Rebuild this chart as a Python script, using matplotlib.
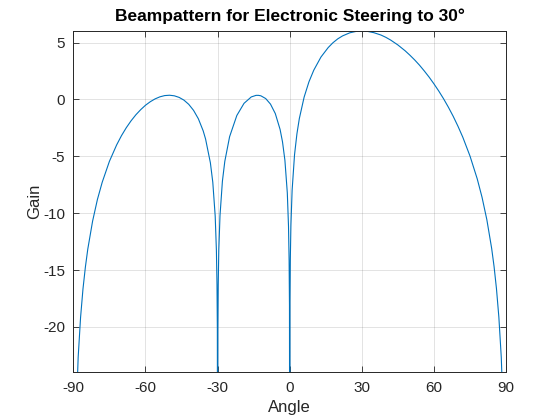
import matplotlib
matplotlib.use("Agg")
import matplotlib.pyplot as plt
import numpy as np

# angle (deg) and gain values; nulls pushed below the axis
angle = [-90, -89, -88, -87, -86, -85, -84, -82, -80, -78, -75, -72, -70, -68, -66,
         -64, -62, -60, -58, -56, -54, -52, -50, -48, -46, -44, -42, -40, -38, -36,
         -35, -33, -32, -31, -30.5, -30.25, -30.1, -30, -29.9, -29.75, -29.5, -29,
         -28, -27, -25, -22, -19, -16, -14, -13, -12, -10, -8, -6, -4, -3, -2, -1,
         -0.5, -0.25, -0.1, 0, 0.1, 0.25, 0.5, 1, 2, 3, 4, 6, 8, 10, 13, 16, 18, 20,
         22, 25, 28, 30, 32, 35, 38, 40, 42, 45, 48, 50, 52, 54, 56, 58, 60, 62, 64,
         66, 68, 70, 72, 75, 78, 80, 82, 84, 85, 86, 87, 88, 89, 90]
gain = [-40, -28.69, -22.67, -19.16, -16.66, -14.74, -13.16, -10.70, -8.80, -7.28,
        -5.44, -4.00, -3.19, -2.49, -1.88, -1.35, -0.90, -0.51, -0.20, 0.05, 0.23,
        0.34, 0.37, 0.32, 0.18, -0.06, -0.43, -0.96, -1.70, -2.76, -3.48, -5.57,
        -7.28, -10.25, -13.25, -16.3, -20.2, -40, -20.2, -16.3, -13.23, -10.21,
        -7.19, -5.44, -3.27, -1.41, -0.34, 0.22, 0.36, 0.36, 0.32, 0.08, -0.41,
        -1.24, -2.64, -3.73, -5.35, -8.22, -11.17, -14.17, -18.15, -40, -18.04,
        -14.06, -11.05, -7.98, -4.87, -3.02, -1.68, 0.21, 1.55, 2.57, 3.73, 4.56,
        4.99, 5.33, 5.59, 5.86, 6.00, 6.02, 6.00, 5.87, 5.66, 5.46, 5.22, 4.79,
        4.28, 3.89, 3.47, 3.01, 2.50, 1.96, 1.37, 0.74, 0.06, -0.68, -1.48, -2.36,
        -3.32, -4.98, -6.98, -8.60, -10.57, -13.09, -14.68, -16.63, -19.14, -22.66,
        -28.70, -40]

x_ticks = [-90, -60, -30, 0, 30, 60, 90]
y_ticks = [-20, -15, -10, -5, 0, 5]

plt.rcParams['font.family'] = ['Liberation Sans', 'DejaVu Sans']
plt.rcParams['axes.unicode_minus'] = False
dark = '#262626'

fig = plt.figure(figsize=(5.6, 4.2), dpi=100)
ax = fig.add_axes([0.131, 0.1133, 0.7727, 0.8124])
ax.plot(angle, gain, '-', color='#0072BD', linewidth=0.8)

ax.set_xlim(-90, 90)
ax.set_ylim(-24, 6)
ax.set_xticks(x_ticks)
ax.set_yticks(y_ticks)
ax.grid(True, color=dark, alpha=0.15, linewidth=0.6)
ax.set_axisbelow(True)

ax.tick_params(direction='in', length=4, width=0.6, colors=dark, labelsize=11,
               top=True, right=True, pad=6)
for s in ax.spines.values():
    s.set_color(dark)
    s.set_linewidth(0.7)

ax.set_xlabel('Angle', fontsize=12, color=dark, labelpad=4)
ax.set_ylabel('Gain', fontsize=12, color=dark, labelpad=1)
ax.set_title('Beampattern for Electronic Steering to 30°', fontsize=12.5,
             fontweight='bold', color='black', pad=7)

plt.savefig('out.png', dpi=100)
